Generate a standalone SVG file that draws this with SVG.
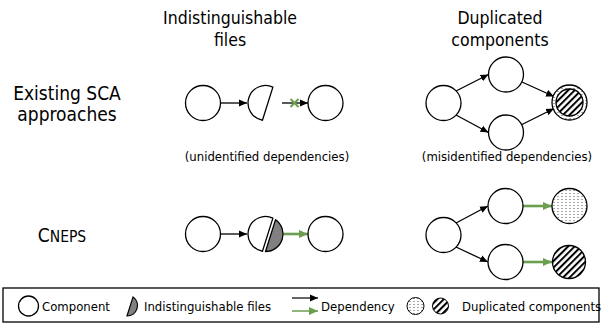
<svg xmlns="http://www.w3.org/2000/svg" width="603" height="326" viewBox="0 0 603 326">
<style>
text{font-family:"DejaVu Sans Condensed","DejaVu Sans",sans-serif;fill:#000}
.t{font-size:17.5px;text-anchor:middle}
.r{font-size:19px;text-anchor:middle}
.cap{font-size:13px;text-anchor:middle}
.lg{font-size:13px}
.c{fill:#fff;stroke:#000;stroke-width:1.3}
.blk{stroke:#000;stroke-width:1.3;fill:none}
.grn{stroke:#6b9e4f;stroke-width:2.6;fill:none}
.wp{fill:#fff;stroke:#000;stroke-width:1.3;stroke-linejoin:round}
.gp{fill:#808080;stroke:#000;stroke-width:1.3;stroke-linejoin:round}
</style>
<defs>
<marker id="ab" markerUnits="userSpaceOnUse" markerWidth="9" markerHeight="8" refX="8" refY="4" orient="auto"><path d="M0,0.5 L8,4 L0,7.5 Z" fill="#000"/></marker>
<marker id="ag" markerUnits="userSpaceOnUse" markerWidth="10" markerHeight="9" refX="9" refY="4.5" orient="auto"><path d="M0,0.5 L9,4.5 L0,8.5 Z" fill="#6b9e4f"/></marker>
<pattern id="hatch" width="4.6" height="4.6" patternUnits="userSpaceOnUse" patternTransform="rotate(45)"><rect width="4.6" height="4.6" fill="#fff"/><line x1="1" y1="0" x2="1" y2="4.6" stroke="#000" stroke-width="2"/></pattern>
<pattern id="dots" width="4" height="3" patternUnits="userSpaceOnUse"><rect width="4" height="3" fill="#fff"/><circle cx="2" cy="1.5" r="0.55" fill="#333"/></pattern>
<path id="wpiece" d="M7.402,-15.864 L-3.042,17.240 A17.5,17.5 0 1 1 7.402,-15.864 Z"/>
<path id="gpiece" d="M10.064,-14.325 A17.5,17.5 0 0 1 0.020,17.507 Z"/>
</defs>

<g id="labels">
<text class="t" x="230" y="24">Indistinguishable</text>
<text class="t" x="230" y="46">files</text>
<text class="t" x="500" y="24">Duplicated</text>
<text class="t" x="500" y="46">components</text>
<text class="r" x="67" y="100">Existing SCA</text>
<text class="r" x="67" y="121">approaches</text>
<text class="r" x="62" y="242" font-size="22">C<tspan font-size="15.5">NEPS</tspan></text>
<text class="cap" x="267" y="161">(unidentified dependencies)</text>
<text class="cap" x="507" y="161">(misidentified dependencies)</text>
</g>

<g id="connectors">
<line class="blk" x1="220.5" y1="103" x2="247" y2="103" marker-end="url(#ab)"/>
<line class="blk" x1="282" y1="103" x2="308" y2="103" stroke="#333" marker-end="url(#ab)"/>
<path d="M290.5,99 L298.5,107 M290.5,107 L298.5,99" stroke="#6b9e4f" stroke-width="2" fill="none"/>
<line class="blk" x1="456" y1="91" x2="488.5" y2="74.5" marker-end="url(#ab)"/>
<line class="blk" x1="456" y1="115" x2="488.5" y2="132.5" marker-end="url(#ab)"/>
<line class="blk" x1="522" y1="82" x2="554" y2="96.5" marker-end="url(#ab)"/>
<line class="blk" x1="522" y1="124.5" x2="554" y2="108.5" marker-end="url(#ab)"/>
<line class="blk" x1="220.5" y1="234" x2="247" y2="234" marker-end="url(#ab)"/>
<line class="grn" x1="283.5" y1="234" x2="308" y2="234" marker-end="url(#ag)"/>
<line class="blk" x1="456" y1="223" x2="488" y2="206" marker-end="url(#ab)"/>
<line class="blk" x1="456" y1="247" x2="488" y2="262" marker-end="url(#ab)"/>
<line class="grn" x1="523" y1="206" x2="552" y2="206" marker-end="url(#ag)"/>
<line class="grn" x1="523" y1="262" x2="552" y2="262" marker-end="url(#ag)"/>
</g>

<g id="sca-files-a"><circle class="c" cx="203" cy="103" r="17.5"/></g>
<g id="sca-files-b"><use href="#wpiece" class="wp" transform="translate(265.5,103)"/></g>
<g id="sca-files-c"><circle class="c" cx="325.5" cy="103" r="17.5"/></g>

<g id="sca-dup-a"><circle class="c" cx="443.5" cy="103" r="17.5"/></g>
<g id="sca-dup-b"><circle class="c" cx="506" cy="74.5" r="17.5"/></g>
<g id="sca-dup-c"><circle class="c" cx="506" cy="132.5" r="17.5"/></g>
<g id="sca-dup-d"><circle cx="569.5" cy="102.5" r="17.5" fill="url(#dots)" stroke="#000" stroke-width="1.3"/><circle cx="569.5" cy="102.5" r="13.5" fill="url(#hatch)" stroke="#000" stroke-width="1.3"/></g>

<g id="cneps-files-a"><circle class="c" cx="203" cy="234" r="17.5"/></g>
<g id="cneps-files-b"><use href="#wpiece" class="wp" transform="translate(265.5,234)"/><use href="#gpiece" class="gp" transform="translate(265.5,234)"/></g>
<g id="cneps-files-c"><circle class="c" cx="325.5" cy="234" r="17.5"/></g>

<g id="cneps-dup-a"><circle class="c" cx="443.5" cy="235" r="17.5"/></g>
<g id="cneps-dup-b"><circle class="c" cx="505.5" cy="206" r="17.5"/></g>
<g id="cneps-dup-c"><circle class="c" cx="505.5" cy="262" r="17.5"/></g>
<g id="cneps-dup-d"><circle cx="569.5" cy="206" r="17.5" fill="url(#dots)" stroke="#000" stroke-width="1.3"/></g>
<g id="cneps-dup-e"><circle cx="569" cy="262" r="16.5" fill="url(#hatch)" stroke="#000" stroke-width="1.3"/></g>

<g id="legend">
<rect x="3" y="288" width="596" height="34" fill="#fff" stroke="#000" stroke-width="1.3"/>
<circle class="c" cx="28.5" cy="306" r="10"/>
<text class="lg" x="42" y="311">Component</text>
<use href="#gpiece" fill="#808080" stroke="#000" stroke-width="2" transform="translate(127,305.5) scale(0.6)"/>
<text class="lg" x="144" y="311">Indistinguishable files</text>
<line x1="292" y1="298" x2="318" y2="298" stroke="#000" stroke-width="1.2" marker-end="url(#ab)"/>
<line x1="292" y1="311" x2="318" y2="311" stroke="#6b9e4f" stroke-width="1.5" marker-end="url(#ag)"/>
<text class="lg" x="321" y="311">Dependency</text>
<circle cx="415.5" cy="306" r="8.5" fill="url(#dots)" stroke="#000" stroke-width="1"/>
<circle cx="440.5" cy="306" r="8" fill="url(#hatch)" stroke="#000" stroke-width="1"/>
<text class="lg" x="462" y="311">Duplicated components</text>
</g>
</svg>
